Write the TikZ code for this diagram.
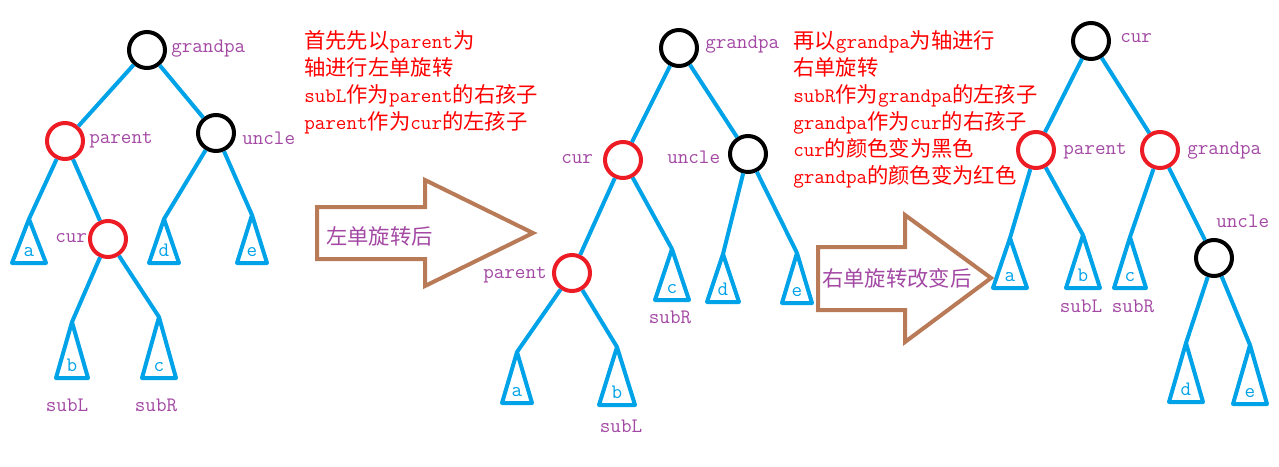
\documentclass[tikz,border=0pt]{standalone}
\usepackage{fontspec}
\newfontfamily\zh{Noto Sans CJK SC}
\usetikzlibrary{calc}
\usepackage{xcolor}
\definecolor{treeblue}{RGB}{0,162,232}
\definecolor{nodered}{RGB}{237,28,36}
\definecolor{arrowbrown}{RGB}{185,122,87}
\definecolor{tagpurple}{RGB}{163,73,164}
\newcommand{\lat}[1]{{\ttfamily\fontsize{15.4}{20}\selectfont #1}}

\begin{document}
\begin{tikzpicture}[x=0.75pt,y=-0.75pt,
  blk/.style={circle,draw=black,line width=3pt,minimum size=27pt,inner sep=0},
  rd/.style={circle,draw=nodered,line width=3pt,minimum size=27pt,inner sep=0},
  branch/.style={treeblue,line width=3pt},
  tri/.style={treeblue,line width=3pt,line join=round},
  leaf/.style={treeblue,inner sep=0,anchor=base,font=\ttfamily\fontsize{15.4}{20}\selectfont},
  lbl/.style={tagpurple,inner sep=0,anchor=base west,font=\ttfamily\fontsize{15.4}{20}\selectfont},
  note/.style={red,inner sep=0,anchor=north west,align=left,font=\zh\fontsize{16}{20.3}\selectfont},
  bigarrow/.style={arrowbrown,line width=3pt,line join=miter}]
\useasboundingbox (0,0) rectangle (1279,467);

% first tree
\node[blk] (g1) at (147,50) {};
\node[rd]  (p1) at (65,141) {};
\node[blk] (u1) at (216,133) {};
\node[rd]  (c1) at (108,239) {};
% second tree
\node[blk] (g2) at (679,48) {};
\node[rd]  (c2) at (623,160) {};
\node[blk] (u2) at (748,154) {};
\node[rd]  (p2) at (572,273) {};
% third tree
\node[blk] (c3) at (1091,41) {};
\node[rd]  (p3) at (1036,150) {};
\node[rd]  (g3) at (1160,150) {};
\node[blk] (u3) at (1214,258) {};

\foreach \n/\x/\y/\w/\b/\t in {t1a/29/219/17/263/a, t1b/72/322/16/378/b, t1c/159/317/17/378/c,
  t1d/164/219/15/263/d, t1e/252/215/15/263/e,
  t2a/517/352/15/403/a, t2b/617/347/18/405/b, t2c/672/249/17/300/c,
  t2d/723/254/16/302/d, t2e/797/253/15/303/e,
  t3a/1010/238/17/288/a, t3b/1083/235/17/288/b, t3c/1130/237/16/288/c,
  t3d/1186/343/17/402/d, t3e/1250/345/17/404/e} {
 \draw[tri] (\x,\y) coordinate (\n) -- (\x-\w,\b) -- (\x+\w,\b) -- cycle;
 \node[leaf] (l\n) at (\x,\b-7) {\t};
}

\draw[branch] (g1)--(p1);
\draw[branch] (g1)--(u1);
\draw[branch] (p1)--(t1a);
\draw[branch] (p1)--(c1);
\draw[branch] (c1)--(t1b);
\draw[branch] (c1)--(t1c);
\draw[branch] (u1)--(t1d);
\draw[branch] (u1)--(t1e);

\draw[branch] (g2)--(c2);
\draw[branch] (g2)--(u2);
\draw[branch] (c2)--(p2);
\draw[branch] (c2)--(t2c);
\draw[branch] (p2)--(t2a);
\draw[branch] (p2)--(t2b);
\draw[branch] (u2)--(t2d);
\draw[branch] (u2)--(t2e);

\draw[branch] (c3)--(p3);
\draw[branch] (c3)--(g3);
\draw[branch] (p3)--(t3a);
\draw[branch] (p3)--(t3b);
\draw[branch] (g3)--(t3c);
\draw[branch] (g3)--(u3);
\draw[branch] (u3)--(t3d);
\draw[branch] (u3)--(t3e);

% names
\node[lbl] (ng1) at (171,53) {grandpa};
\node[lbl] (np1) at (89,143) {parent};
\node[lbl] (nu1) at (242,145) {uncle};
\node[lbl] (nc1) at (55,242) {cur};
\node[lbl,anchor=base] (nl1) at (67,411) {subL};
\node[lbl,anchor=base] (nr1) at (156,411) {subR};

\node[lbl] (ng2) at (705,49) {grandpa};
\node[lbl] (nc2) at (561,163) {cur};
\node[lbl] (nu2) at (667,163) {uncle};
\node[lbl] (np2) at (483,278) {parent};
\node[lbl,anchor=base] (nr2) at (670,323) {subR};
\node[lbl,anchor=base] (nl2) at (621,432) {subL};

\node[lbl] (nc3) at (1120,43) {cur};
\node[lbl] (np3) at (1063,154) {parent};
\node[lbl] (ng3) at (1187,155) {grandpa};
\node[lbl] (nu3) at (1216,227) {uncle};
\node[lbl,anchor=base] (nl3) at (1081,312) {subL};
\node[lbl,anchor=base] (nr3) at (1133,312) {subR};

% notes
\node[note] (step1) at (304,30) {首先先以\lat{parent}为\\轴进行左单旋转\\\lat{subL}作为\lat{parent}的右孩子\\\lat{parent}作为\lat{cur}的左孩子};
\node[note] (step2) at (793,30) {再以\lat{grandpa}为轴进行\\右单旋转\\\lat{subR}作为\lat{grandpa}的左孩子\\\lat{grandpa}作为\lat{cur}的右孩子\\\lat{cur}的颜色变为黑色\\\lat{grandpa}的颜色变为红色};

% arrows
\draw[bigarrow] (317,207) -- (425,207) -- (425,180) -- (533,233) -- (425,286) -- (425,259) -- (317,259) -- cycle;
\draw[bigarrow] (818,247) -- (905,247) -- (905,215) -- (991,278) -- (905,342) -- (905,310) -- (818,310) -- cycle;
\node[note,tagpurple,anchor=base west] (rot1) at (326,244) {左单旋转后};
\node[note,tagpurple,anchor=base west] (rot2) at (822,286) {右单旋转改变后};
\end{tikzpicture}
\end{document}
